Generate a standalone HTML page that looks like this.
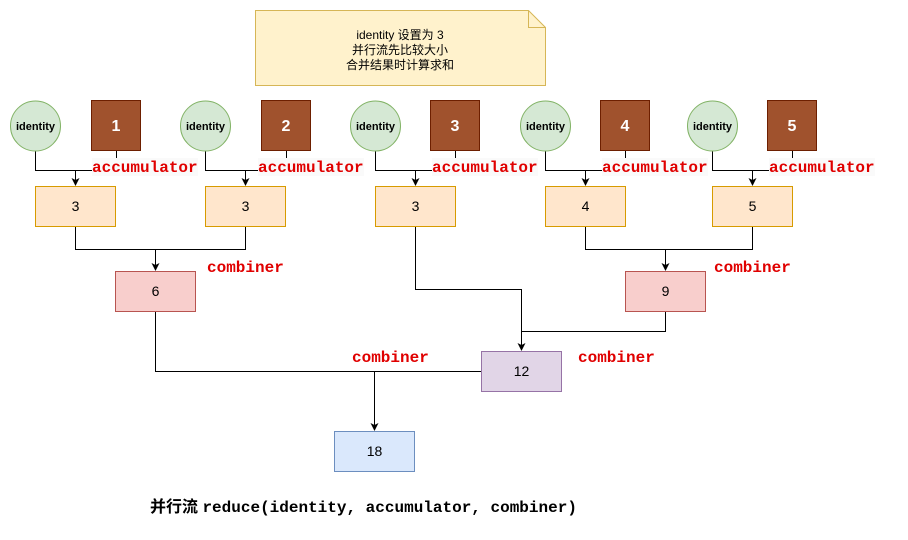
<!DOCTYPE html>
<html><head><meta charset="utf-8"><style>
html,body{margin:0;padding:0;background:#fff;}
svg{display:block;}
.s{font-family:"Liberation Sans","Noto Sans CJK SC",sans-serif;}
.m{font-family:"Liberation Mono","Noto Sans CJK SC",monospace;font-weight:bold;}
</style></head><body>
<svg width="908" height="540" viewBox="0 0 908 540" xmlns="http://www.w3.org/2000/svg">
<!-- note -->
<path d="M255.5,10.5 H528.5 L545.5,27.5 V85.5 H255.5 Z" fill="#fff2cc" stroke="#d6b656"/>
<path d="M528.5,10.5 V27.5 H545.5" fill="none" stroke="#d6b656"/>
<g class="s" font-size="12" text-anchor="middle" fill="#000">
<text x="400" y="39">identity 设置为 3</text>
<text x="400" y="54">并行流先比较大小</text>
<text x="400" y="69">合并结果时计算求和</text>
</g>
<g fill="none" stroke="#000" stroke-width="1">
<path d="M35.5,151 V170.5 H116.5 V150"/><path d="M75.5,170 V182"/>
<path d="M205.5,151 V170.5 H286.5 V150"/><path d="M245.5,170 V182"/>
<path d="M375.5,151 V170.5 H455.5 V150"/><path d="M415.5,170 V182"/>
<path d="M545.5,151 V170.5 H625.5 V150"/><path d="M585.5,170 V182"/>
<path d="M712.5,151 V170.5 H792.5 V150"/><path d="M752.5,170 V182"/>
<path d="M75.5,226 V249.5 H245.5 V226"/><path d="M155.5,249 V267"/>
<path d="M585.5,226 V249.5 H752.5 V226"/><path d="M665.5,249 V267"/>
<path d="M415.5,226 V289.5 H521.5"/><path d="M521.5,289 V347"/>
<path d="M665.5,311 V331.5 H521.5"/>
<path d="M155.5,311 V371.5 H481"/><path d="M374.5,371 V427"/>
</g>
<g fill="#000">
<polygon points="71.5,178 75.5,186 79.5,178 75.5,180"/>
<polygon points="241.5,178 245.5,186 249.5,178 245.5,180"/>
<polygon points="411.5,178 415.5,186 419.5,178 415.5,180"/>
<polygon points="581.5,178 585.5,186 589.5,178 585.5,180"/>
<polygon points="748.5,178 752.5,186 756.5,178 752.5,180"/>
<polygon points="151.5,263 155.5,271 159.5,263 155.5,265"/>
<polygon points="661.5,263 665.5,271 669.5,263 665.5,265"/>
<polygon points="517.5,343 521.5,351 525.5,343 521.5,345"/>
<polygon points="370.5,423 374.5,431 378.5,423 374.5,425"/>
</g>
<g fill="#d5e8d4" stroke="#82b366">
<circle cx="35.5" cy="126" r="25"/><circle cx="205.5" cy="126" r="25"/><circle cx="375.5" cy="126" r="25"/><circle cx="545.5" cy="126" r="25"/><circle cx="712.5" cy="126" r="25"/>
</g>
<g class="s" font-size="11" font-weight="bold" text-anchor="middle">
<text x="35.5" y="130">identity</text><text x="205.5" y="130">identity</text><text x="375.5" y="130">identity</text><text x="545.5" y="130">identity</text><text x="712.5" y="130">identity</text>
</g>
<g fill="#a0522d" stroke="#6d1f00">
<rect x="91.5" y="100.5" width="49" height="50"/><rect x="261.5" y="100.5" width="49" height="50"/><rect x="430.5" y="100.5" width="49" height="50"/><rect x="600.5" y="100.5" width="49" height="50"/><rect x="767.5" y="100.5" width="49" height="50"/>
</g>
<g class="s" font-size="16" font-weight="bold" fill="#fff" text-anchor="middle">
<text x="116" y="131">1</text><text x="286" y="131">2</text><text x="455" y="131">3</text><text x="625" y="131">4</text><text x="792" y="131">5</text>
</g>
<g fill="#ffe6cc" stroke="#d79b00">
<rect x="35.5" y="186.5" width="80" height="40"/><rect x="205.5" y="186.5" width="80" height="40"/><rect x="375.5" y="186.5" width="80" height="40"/><rect x="545.5" y="186.5" width="80" height="40"/><rect x="712.5" y="186.5" width="80" height="40"/>
</g>
<g fill="#f8cecc" stroke="#b85450">
<rect x="115.5" y="271.5" width="80" height="40"/><rect x="625.5" y="271.5" width="80" height="40"/>
</g>
<rect x="481.5" y="351.5" width="80" height="40" fill="#e1d5e7" stroke="#9673a6"/>
<rect x="334.5" y="431.5" width="80" height="40" fill="#dae8fc" stroke="#6c8ebf"/>
<g class="s" font-size="14" text-anchor="middle">
<text x="75.5" y="211">3</text><text x="245.5" y="211">3</text><text x="415.5" y="211">3</text><text x="585.5" y="211">4</text><text x="752.5" y="211">5</text>
<text x="155.5" y="296">6</text><text x="665.5" y="296">9</text><text x="521.5" y="376">12</text><text x="374.5" y="456">18</text>
</g>
<g class="m" font-size="16" fill="#e00000">
<rect x="92" y="158" width="106" height="18" fill="#fafafa"/><text x="92" y="172">accumulator</text>
<rect x="258" y="158" width="106" height="18" fill="#fafafa"/><text x="258" y="172">accumulator</text>
<rect x="432" y="158" width="106" height="18" fill="#fafafa"/><text x="432" y="172">accumulator</text>
<rect x="602" y="158" width="106" height="18" fill="#fafafa"/><text x="602" y="172">accumulator</text>
<rect x="769" y="158" width="106" height="18" fill="#fafafa"/><text x="769" y="172">accumulator</text>
<text x="207" y="272">combiner</text>
<text x="714" y="272">combiner</text>
<text x="352" y="362">combiner</text>
<text x="578" y="362">combiner</text>
</g>
<text x="150" y="512" font-size="16" font-weight="bold" class="s">并行流 <tspan class="m" font-size="16">reduce(identity, accumulator, combiner)</tspan></text>
</svg>
</body></html>
